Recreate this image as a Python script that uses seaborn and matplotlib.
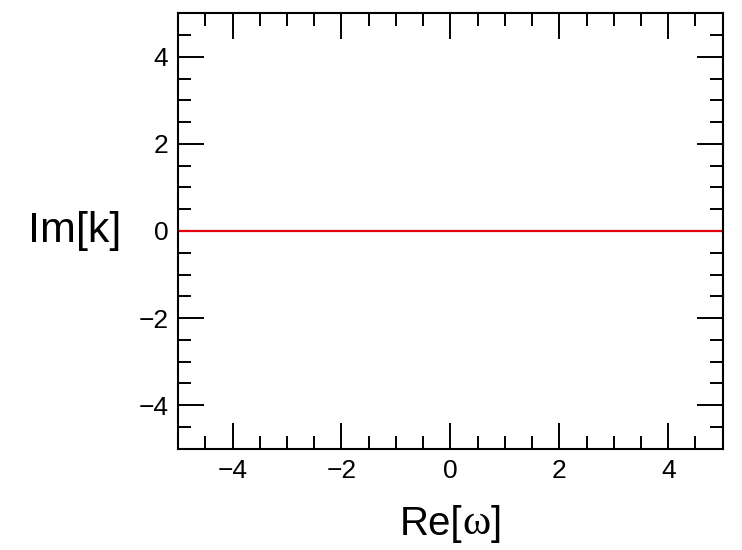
import numpy as np
import pandas as pd
import matplotlib
matplotlib.use("Agg")
import matplotlib.pyplot as plt
import seaborn as sns
from matplotlib.ticker import MultipleLocator

# data
re_omega = [-5, 5]
im_k = [0, 0]
x_ticks = [-4, -2, 0, 2, 4]
y_ticks = [-4, -2, 0, 2, 4]
tick_labels = ["\u22124", "\u22122", "0", "2", "4"]

sns.set_style("ticks")
plt.rcParams['font.family'] = ['Liberation Sans', 'DejaVu Sans']
plt.rcParams['text.color'] = 'black'

fig = plt.figure(figsize=(7.42, 5.50), dpi=100)
ax = fig.add_axes([0.240, 0.184, 0.734, 0.792])

df = pd.DataFrame({"re": re_omega, "im": im_k})
sns.lineplot(data=df, x="re", y="im", color="#e3000f", linewidth=1.6, ax=ax)

ax.set_xlim(-5, 5)
ax.set_ylim(-5, 5)
ax.set_xticks(x_ticks)
ax.set_yticks(y_ticks)
ax.set_xticklabels(tick_labels)
ax.set_yticklabels(tick_labels)
ax.xaxis.set_minor_locator(MultipleLocator(0.5))
ax.yaxis.set_minor_locator(MultipleLocator(0.5))

for s in ax.spines.values():
    s.set_linewidth(1.5)
    s.set_color("black")
ax.tick_params(which="both", direction="in", top=True, right=True,
               width=1.4, color="black", labelcolor="black")
ax.tick_params(which="major", length=19, labelsize=19, pad=7)
ax.tick_params(which="minor", length=9.5)
ax.set_xlabel("")
ax.set_ylabel("")

# axis titles
fig.text(0.100, 0.580, "Im[k]", fontsize=31, ha="center", va="center")
t1 = fig.text(0.539, 0.027, "Re[", fontsize=29, ha="left", va="baseline")
t2 = ax.annotate("\u03c9", xy=(1, 0), xycoords=t1, fontsize=31,
                 family="Liberation Serif", va="bottom", ha="left")
ax.annotate("]", xy=(1, 0), xycoords=t2, fontsize=29, va="bottom", ha="left")

fig.savefig("out.png", dpi=100)
